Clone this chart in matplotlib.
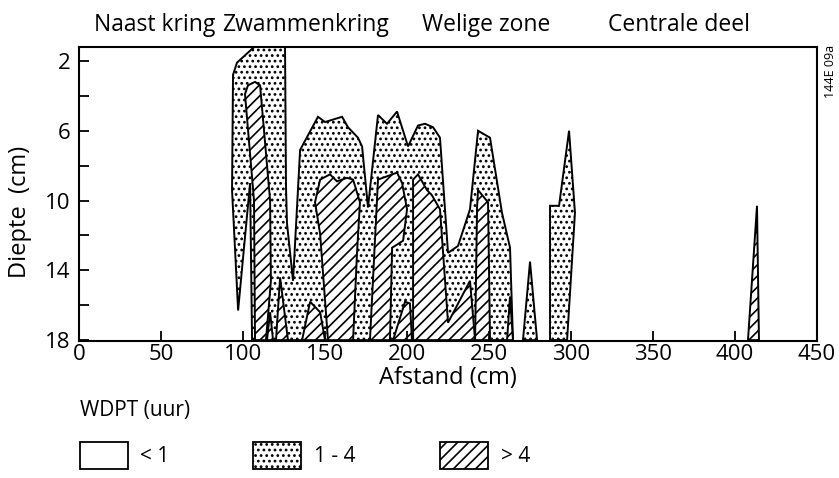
import matplotlib
matplotlib.use("Agg")
import matplotlib.pyplot as plt
from matplotlib.patches import Rectangle

plt.rcParams["font.family"] = ["Open Sans", "DejaVu Sans"]
plt.rcParams["hatch.linewidth"] = 1.2

# --- zones along the transect ---
zones = ["Naast kring", "Zwammenkring", "Welige zone", "Centrale deel"]
zone_x = [46, 138, 248, 366]

# --- WDPT 1 - 4 uur (dotted), (afstand cm, diepte cm) ---
dots_main = [
    (105.5, 18.0), (104.3, 9.0), (97.0, 16.3), (93.3, 9.4), (93.9, 2.8),
    (96.3, 2.1), (109.1, 1.0), (125.6, 1.0), (126.2, 9.2), (126.8, 11.3),
    (130.5, 14.6), (134.8, 7.1), (145.7, 5.2), (150.0, 5.5), (160.4, 5.2),
    (164.0, 5.8), (170.1, 6.4), (172.6, 6.9), (176.2, 10.4), (182.3, 5.1),
    (187.8, 5.6), (193.9, 4.9), (200.6, 6.9), (206.7, 5.7), (211.0, 5.6),
    (215.9, 5.8), (220.1, 6.4), (225.0, 13.0), (231.1, 12.6), (238.4, 10.5),
    (243.3, 6.0), (250.6, 6.4), (257.9, 10.7), (262.8, 12.7), (264.6, 18.0),
]
dots_spike = [(270.7, 18.0), (275.0, 13.5), (279.3, 18.0)]
dots_right = [
    (287.2, 18.0), (287.2, 10.3), (292.7, 10.3), (298.8, 6.0),
    (302.4, 10.7), (297.6, 18.0),
]

# --- WDPT > 4 uur (hatched) ---
hatch_a = [
    (107.3, 18.0), (106.7, 10.0), (101.2, 3.9), (103.0, 3.4), (107.3, 3.2),
    (110.4, 3.4), (112.8, 6.0), (116.5, 10.0), (117.0, 14.6), (114.0, 18.0),
]
hatch_b = [(114.6, 18.0), (116.5, 16.4), (118.3, 18.0)]
hatch_c = [(120.1, 18.0), (122.6, 14.4), (127.4, 18.0)]
hatch_d = [(136.0, 18.0), (140.9, 15.8), (147.0, 16.4), (150.0, 18.0)]
hatch_e = [
    (151.8, 18.0), (147.0, 11.9), (143.9, 10.1), (147.0, 8.8), (153.0, 8.5),
    (157.3, 8.9), (163.4, 8.7), (167.1, 8.8), (171.3, 10.1), (169.5, 13.0),
    (167.1, 18.0),
]
hatch_f = [
    (177.4, 18.0), (182.3, 8.8), (193.9, 8.4), (197.0, 9.0), (200.0, 10.5),
    (197.6, 12.3), (192.7, 12.6), (190.9, 12.7), (189.6, 18.0),
]
hatch_g = [(191.5, 18.0), (198.8, 15.8), (201.8, 15.9), (203.0, 18.0)]
hatch_h = [
    (203.7, 18.0), (203.7, 8.8), (206.7, 8.5), (212.2, 9.4), (215.2, 9.7),
    (220.1, 10.5), (225.0, 17.0), (238.4, 14.6), (241.5, 18.0),
]
hatch_i = [(241.5, 18.0), (242.7, 10.4), (243.3, 9.4), (249.4, 10.1), (250.6, 18.0)]
hatch_j = [(261.0, 18.0), (262.8, 15.5), (264.6, 18.0)]
hatch_k = [(407.9, 18.0), (413.4, 10.3), (414.6, 18.0)]

dotted_patches = [dots_main, dots_spike, dots_right]
hatched_patches = [hatch_a, hatch_b, hatch_c, hatch_d, hatch_e, hatch_f,
                   hatch_g, hatch_h, hatch_i, hatch_j, hatch_k]

legend_labels = ["< 1", "1 - 4", "> 4"]

DOT = "..."
HATCH = "///"
legend_hatch = ["", DOT, HATCH]

fig = plt.figure(figsize=(8.39, 4.78), dpi=100)
ax = fig.add_axes([0.0942, 0.2866, 0.8796, 0.6151])

for poly in dotted_patches:
    xs = [p[0] for p in poly]
    ys = [p[1] for p in poly]
    ax.fill(xs, ys, facecolor="white", edgecolor="black", hatch=DOT, lw=1.4)
for poly in hatched_patches:
    xs = [p[0] for p in poly]
    ys = [p[1] for p in poly]
    ax.fill(xs, ys, facecolor="white", edgecolor="black", hatch=HATCH, lw=1.4)

ax.set_xlim(0, 450)
ax.set_ylim(18.05, 1.2)
ax.set_xticks(range(0, 451, 50))
ax.set_yticks([2, 6, 10, 14, 18])
ax.set_yticks([4, 8, 12, 16], minor=True)
ax.tick_params(direction="in", length=7, width=1.3, labelsize=16)
ax.tick_params(axis="y", which="minor", direction="in", length=7, width=1.3)
ax.tick_params(axis="x", pad=2)
ax.tick_params(axis="y", pad=6)
for s in ax.spines.values():
    s.set_linewidth(1.5)

ax.set_xlabel("Afstand (cm)", fontsize=17, labelpad=1)
fig.text(0.024, 0.556, "Diepte  (cm)", rotation=90, fontsize=17,
         ha="center", va="center")

for name, xz in zip(zones, zone_x):
    ax.text(xz, 1.075, name, transform=ax.get_xaxis_transform(),
            ha="center", va="center", fontsize=16.5)

fig.text(0.99, 0.85, "144E 09a", rotation=90, fontsize=9,
         ha="center", va="center")

# legend
fig.text(0.095, 0.142, "WDPT (uur)", fontsize=15, ha="left", va="center")
box_x = [0.095, 0.302, 0.525]
for bx, lab, h in zip(box_x, legend_labels, legend_hatch):
    fig.patches.append(Rectangle((bx, 0.018), 0.057, 0.058,
                                 transform=fig.transFigure, facecolor="white",
                                 edgecolor="black", hatch=h, lw=1.3))
    fig.text(bx + 0.072, 0.045, lab, fontsize=15, ha="left", va="center")

fig.savefig("out.png", dpi=100)
